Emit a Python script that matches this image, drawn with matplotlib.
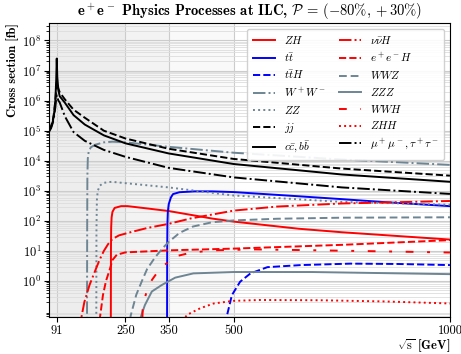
import matplotlib
matplotlib.use("Agg")
import matplotlib.pyplot as plt
from matplotlib.ticker import LogLocator, NullFormatter

plt.rcParams["font.family"] = "cmr10"
plt.rcParams["mathtext.fontset"] = "cm"
plt.rcParams["axes.unicode_minus"] = False
plt.rcParams["axes.formatter.use_mathtext"] = True

# sqrt(s) [GeV] and cross sections [fb]
e_ff = [73, 78, 82, 85, 88, 90, 91.2, 92.5, 95, 98, 110, 130, 156, 200, 250, 350, 500, 750, 1000]
s_ccbb = [1.0e5, 1.3e5, 2.0e5, 3.5e5, 1.0e6, 5.0e6, 2.5e7, 6.0e6, 2.2e6, 1.4e6, 8.5e5, 3.3e5, 1.6e5, 7.0e4, 3.8e4, 1.75e4, 7.8e3, 3.5e3, 2.0e3]
s_jj = [1.1e5, 1.4e5, 2.2e5, 4.0e5, 1.0e6, 2.5e6, 4.0e6, 3.5e6, 2.5e6, 1.9e6, 1.1e6, 5.0e5, 2.7e5, 1.0e5, 5.5e4, 2.5e4, 1.15e4, 5.5e3, 3.2e3]
s_mumu = [9.0e4, 1.2e5, 1.8e5, 3.0e5, 6.0e5, 1.2e6, 1.5e6, 1.3e6, 1.0e6, 8.7e5, 3.0e5, 9.0e4, 4.6e4, 2.3e4, 1.35e4, 5.8e3, 2.8e3, 1.3e3, 7.9e2]

e_ww = [161.0, 161.5, 162, 163, 165, 170, 180, 200, 220, 250, 350, 500, 750, 1000]
s_ww = [1e-3, 30, 3.0e3, 1.2e4, 2.0e4, 2.8e4, 3.4e4, 4.1e4, 4.3e4, 4.1e4, 2.9e4, 1.85e4, 1.1e4, 7.3e3]

e_zz = [182.4, 183, 184, 186, 191, 200, 218, 250, 350, 500, 750, 1000]
s_zz = [1e-3, 50, 500, 1.0e3, 1.5e3, 1.85e3, 2.0e3, 1.8e3, 1.3e3, 700, 430, 345]

e_tt = [346, 346.5, 347, 348, 350, 355, 360, 375, 410, 450, 500, 650, 750, 850, 1000]
s_tt = [1e-3, 10, 80, 200, 360, 600, 780, 900, 960, 960, 910, 660, 530, 420, 310]

e_zh = [216, 216.5, 217, 218, 220, 225, 240, 255, 300, 350, 400, 450, 500, 650, 750, 1000]
s_zh = [1e-3, 10, 60, 130, 200, 270, 310, 310, 260, 213, 160, 120, 95, 55, 42, 24]

e_nnh = [140, 148, 155, 167, 180, 190, 200, 210, 220, 235, 264, 300, 350, 400, 500, 600, 750, 1000]
s_nnh = [0.02, 0.06, 0.2, 0.74, 2.2, 5.0, 10, 17, 25, 33, 43, 58, 80, 120, 220, 300, 380, 460]

e_eeh = [185, 191, 198, 205, 214, 220, 230, 250, 350, 500, 750, 1000]
s_eeh = [0.01, 0.06, 0.34, 1.0, 2.5, 5.0, 7.5, 9.0, 10.5, 12, 16, 23]

e_wwz = [252, 262, 275, 288, 300, 318, 335, 350, 375, 406, 450, 500, 600, 750, 1000]
s_wwz = [1e-3, 0.07, 0.35, 1.0, 2.5, 6.0, 12, 20, 40, 65, 90, 104, 118, 128, 132]

e_zzz = [274, 283, 290, 295, 311, 334, 365, 407, 500, 680, 1000]
s_zzz = [1e-3, 0.05, 0.1, 0.16, 0.45, 0.74, 1.3, 1.8, 2.0, 2.0, 1.7]

e_wwh = [286, 290, 300, 311, 330, 365, 400, 450, 550, 700, 850, 1000]
s_wwh = [1e-3, 0.16, 0.5, 1.08, 2.6, 6.6, 8.7, 10.5, 11.3, 10.5, 9.7, 8.9]

e_tth = [471, 480, 485, 496, 515, 539, 578, 655, 770, 880, 1000]
s_tth = [1e-3, 0.04, 0.075, 0.34, 0.95, 1.8, 2.9, 3.4, 3.8, 3.7, 3.4]

e_zhh = [380, 388, 392, 423, 454, 500, 560, 700, 850, 1000]
s_zhh = [0.02, 0.06, 0.075, 0.125, 0.18, 0.22, 0.235, 0.23, 0.21, 0.18]

stages = [250, 350, 500]
xticks = [91, 250, 350, 500, 1000]

red = "#ff0000"
blue = "#0000ff"
gray = "#6e8594"

fig = plt.figure(figsize=(4.61, 3.54), dpi=100)
ax = fig.add_axes([0.106, 0.104, 0.87, 0.831])

xmin, xmax = 73, 1000
for st in stages:
    ax.axvspan(xmin, st, color="black", alpha=0.025, lw=0, zorder=0)

lw = 1.4
ax.plot(e_zh, s_zh, color=red, ls="-", lw=lw, label=r"$ZH$")
ax.plot(e_tt, s_tt, color=blue, ls="-", lw=lw, label=r"$t\bar{t}$")
ax.plot(e_tth, s_tth, color=blue, ls="--", lw=lw, label=r"$t\bar{t}H$")
ax.plot(e_ww, s_ww, color=gray, ls="-.", lw=lw, label=r"$W^+W^-$")
ax.plot(e_zz, s_zz, color=gray, ls=":", lw=lw, label=r"$ZZ$")
ax.plot(e_ff, s_jj, color="black", ls="--", lw=lw, label=r"$jj$")
ax.plot(e_ff, s_ccbb, color="black", ls="-", lw=lw, label=r"$c\bar{c}, b\bar{b}$")
ax.plot(e_nnh, s_nnh, color=red, ls="-.", lw=lw, label=r"$\nu\bar{\nu}H$")
ax.plot(e_eeh, s_eeh, color=red, ls="--", lw=lw, label=r"$e^+e^-H$")
ax.plot(e_wwz, s_wwz, color=gray, ls=(0, (4, 2)), lw=lw, label=r"$WWZ$")
ax.plot(e_zzz, s_zzz, color=gray, ls="-", lw=lw, label=r"$ZZZ$")
ax.plot(e_wwh, s_wwh, color=red, ls=(0, (4, 7, 1.5, 7)), lw=lw, label=r"$WWH$")
ax.plot(e_zhh, s_zhh, color=red, ls=":", lw=lw, label=r"$ZHH$")
ax.plot(e_ff, s_mumu, color="black", ls="-.", lw=lw, label=r"$\mu^+\mu^-, \tau^+\tau^-$")

ax.set_yscale("log")
ax.set_xlim(xmin, xmax)
ax.set_ylim(0.063, 3.8e8)
ax.set_xticks(xticks)
ax.set_xticklabels([str(t) for t in xticks])
ax.set_yticks([10.0 ** k for k in range(0, 9)])
ax.yaxis.set_minor_locator(LogLocator(base=10, subs=range(2, 10), numticks=20))
ax.yaxis.set_minor_formatter(NullFormatter())
ax.tick_params(labelsize=9, pad=2)

ax.grid(True, which="major", axis="both", color="#cccccc", lw=0.8)
ax.grid(True, which="minor", axis="y", color="#dddddd", lw=0.6)
ax.set_axisbelow(True)

ax.set_title(r"$\mathbf{e^+e^-}$ Physics Processes at ILC, $\mathcal{P}\,=\,\mathbf{(-80\%, +30\%)}$",
             fontfamily="cmb10", fontsize=10.5, pad=5)
ax.set_xlabel(r"$\sqrt{\mathrm{s}}$ [GeV]", fontfamily="cmb10", fontsize=9, loc="right", labelpad=0)
ax.set_ylabel("Cross section [fb]", fontfamily="cmb10", fontsize=9, loc="top", labelpad=2)

leg = ax.legend(ncol=2, loc="upper right", fontsize=8, frameon=True, framealpha=0.9,
                handlelength=2.0, columnspacing=1.2, labelspacing=0.42, borderpad=0.5)
leg.get_frame().set_edgecolor("#cccccc")

fig.savefig("out.png", dpi=100)
